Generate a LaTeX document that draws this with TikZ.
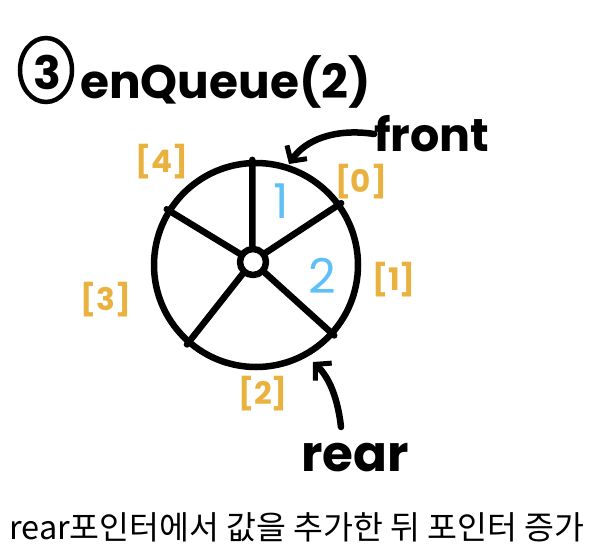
\documentclass[tikz,border=0pt]{standalone}
\usepackage{fontspec}
\setmainfont{Poppins}
\newfontfamily\kr{Noto Sans CJK KR}
\usetikzlibrary{arrows.meta,shapes.geometric}
\definecolor{idxorange}{HTML}{E9B13E}
\definecolor{valblue}{HTML}{5EC0F6}
\tikzset{
  ink/.style={line width=6.5pt, line cap=round, line join=round},
  idx/.style={text=idxorange, font=\bfseries\fontsize{31}{31}\selectfont, inner sep=0pt},
  val/.style={text=valblue, font=\fontsize{48}{48}\selectfont, inner sep=0pt},
  hand/.style={font=\bfseries\fontsize{46}{46}\selectfont, inner sep=0pt},
  ptr/.style={ink, -{Straight Barb[length=11pt,width=24pt,line width=5pt]}},
}
\begin{document}
\begin{tikzpicture}[x=1pt,y=-1pt]
\useasboundingbox (0,0) rectangle (594,552);
% title
\node[draw, ellipse, line width=4.5pt, minimum width=52pt, minimum height=64pt, inner sep=0pt] (circ) at (46,70) {};
\node[inner sep=0pt, font=\bfseries\fontsize{46}{46}\selectfont] (three) at (47,72) {3};
\node[hand, anchor=base west, font=\bfseries\fontsize{47}{47}\selectfont] (title) at (80,98) {enQueue(2)};
% ring
\node[draw, circle, ink, minimum size=204pt, inner sep=0pt] (rim) at (256,265) {};
\node[draw, circle, ink, minimum size=26pt, inner sep=0pt] (hub) at (253,262) {};
\foreach \a in {92,36,148,229,318}{
  \draw[ink] (hub.\a) -- (rim.\a);
}
% values
\node[val] (v1) at (281,201) {1};
\node[val] (v2) at (322,276) {2};
% indices
\node[idx] (i4) at (162,162) {[4]};
\node[idx] (i0) at (361,182) {[0]};
\node[idx] (i1) at (394,280) {[1]};
\node[idx] (i3) at (106,300) {[3]};
\node[idx] (i2) at (263,394) {[2]};
% pointers
\node[hand] (front) at (432,134) {front};
\node[hand, font=\bfseries\fontsize{50}{50}\selectfont] (rear) at (355,458) {rear};
\coordinate (ftip) at (289,164);
\coordinate (rtip) at (313,362);
\coordinate (rtail) at (341,427);
\draw[ptr] (front.west) .. controls (335,128) and (305,140) .. (ftip);
\draw[ptr] (rtail) .. controls (338,400) and (330,378) .. (rtip);
% caption
\node[font=\kr\fontsize{32.5}{32.5}\selectfont, inner sep=0pt] (cap) at (297,527) {rear포인터에서 값을 추가한 뒤 포인터 증가};
\end{tikzpicture}
\end{document}
